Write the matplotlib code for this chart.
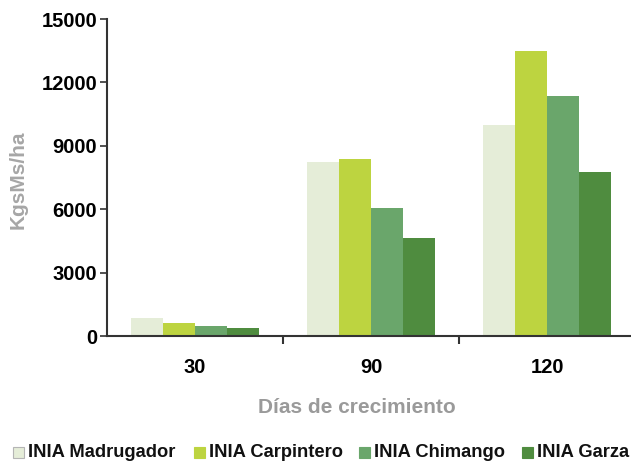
import matplotlib
matplotlib.use("Agg")
import matplotlib.pyplot as plt
import numpy as np
from matplotlib.patches import Rectangle

plt.rcParams['font.family'] = ['Liberation Sans', 'DejaVu Sans']

categories = ["30", "90", "120"]
series_names = ["INIA Madrugador", "INIA Carpintero", "INIA Chimango", "INIA Garza"]
madrugador = [850, 8250, 10000]
carpintero = [620, 8380, 13500]
chimango = [470, 6060, 11370]
garza = [380, 4640, 7770]
yticks = [0, 3000, 6000, 9000, 12000, 15000]

colors = ["#e5edd8", "#bdd440", "#6aa66b", "#4f8c3f"]
values = [madrugador, carpintero, chimango, garza]

W, H = 631, 461
fig = plt.figure(figsize=(W / 100, H / 100), dpi=100)
left, right, bottom, top = 107, 635, 461 - 336, 461 - 19
ax = fig.add_axes([left / W, bottom / H, (right - left) / W, (top - bottom) / H])

x = np.arange(len(categories))
bw = 0.183
for i, (vals, c) in enumerate(zip(values, colors)):
    ax.bar(x + (i - 1.5) * bw, vals, width=bw, color=c, edgecolor='none', zorder=2)

ax.set_xlim(-0.5, 2.5)
ax.set_ylim(0, 15000)
ax.set_yticks(yticks)
ax.set_yticklabels([str(t) for t in yticks], fontsize=14.5, fontweight='bold')
ax.set_xticks(x)
ax.set_xticklabels(categories, fontsize=14.5, fontweight='bold')
ax.tick_params(axis='x', length=0, pad=16)
ax.set_xticks([0.5, 1.5], minor=True)
ax.tick_params(axis='x', which='minor', length=6, width=1.5, color='#333333', direction='out')
ax.tick_params(axis='y', length=5, width=1.2, color='#333333', pad=2)
for s in ['top', 'right']:
    ax.spines[s].set_visible(False)
for s in ['left', 'bottom']:
    ax.spines[s].set_color('#333333')
    ax.spines[s].set_linewidth(1.5)

ax.set_ylabel("KgsMs/ha", fontsize=15, fontweight='bold', color='#a6a6a6')
ax.yaxis.set_label_coords(-(left - 28) / (right - left), (461 - 180 - bottom) / (top - bottom))
fig.text(357 / W, 1 - 407 / H, "Días de crecimiento", fontsize=15, fontweight='bold',
         color='#9a9a9a', ha='center', va='center')

# legend drawn manually to match the reference spacing
handle_x = [13, 194, 359, 522]
leg_y = 452
hs = 11
for i, (name, c) in enumerate(zip(series_names, colors)):
    hx = handle_x[i]
    fig.patches.append(Rectangle((hx / W, 1 - (leg_y + hs / 2) / H), hs / W, hs / H,
                                 transform=fig.transFigure, facecolor=c,
                                 edgecolor=('#b5b5b5' if i == 0 else c), linewidth=0.8))
    fig.text((hx + hs + 4) / W, 1 - leg_y / H, name, fontsize=13.2, fontweight='bold',
             color='#111111', ha='left', va='center')

fig.savefig("out.png", dpi=100)
